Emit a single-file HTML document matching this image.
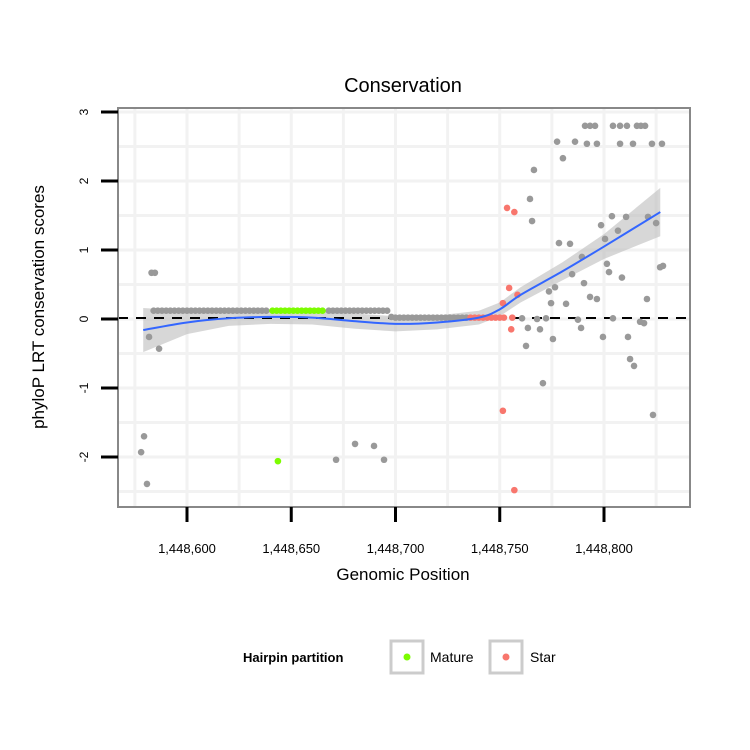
<!DOCTYPE html>
<html><head><meta charset="utf-8"><style>
html,body{margin:0;padding:0;background:#fff;}
svg{display:block;font-family:"Liberation Sans",sans-serif;}
</style></head><body>
<svg id="chart" width="750" height="750" xmlns="http://www.w3.org/2000/svg">
<text x="403" y="92" font-size="20" text-anchor="middle">Conservation</text>
<text transform="translate(44,307) rotate(-90)" font-size="17" text-anchor="middle">phyloP LRT conservation scores</text>
<text x="403" y="580" font-size="17" text-anchor="middle">Genomic Position</text>
<g id="grid"></g>
<g id="band"></g>
<line x1="118" x2="690" y1="318" y2="318" stroke="#000" stroke-width="2" stroke-dasharray="10,8"/>
<g id="points"></g>
<g id="smooth"></g>
<rect x="118" y="108" width="572" height="399" fill="none" stroke="#888" stroke-width="2"/>
<g id="axes"></g>
<g>
<text x="243" y="662" font-size="13" font-weight="bold">Hairpin partition</text>
<g>
<rect x="391" y="641" width="32" height="32" fill="#fff" stroke="#ccc" stroke-width="3"/>
<circle cx="407" cy="657" r="3.5" fill="#7CFC00"/>
<text x="430" y="662" font-size="14">Mature</text></g>
<g>
<rect x="490" y="641" width="32" height="32" fill="#fff" stroke="#ccc" stroke-width="3"/>
<circle cx="506" cy="657" r="3.5" fill="#F8766D"/>
<text x="530" y="662" font-size="14">Star</text></g>
</g>
</svg>
<script>
const xTicks=[1448600,1448650,1448700,1448750,1448800];
const xTickLabels=["1,448,600","1,448,650","1,448,700","1,448,750","1,448,800"];
const yTicks=[-2,-1,0,1,2,3];
const yTickLabels=["-2","-1","0","1","2","3"];
const grayX=[1448578,1448579.4,1448580.8,1448581.8,1448586.6,1448583,1448584.6,1448671.5,1448680.6,1448689.7,1448694.5,
1448584,1448586,1448588,1448590,1448592,1448594,1448596,1448598,1448600,1448602,1448604,1448606,1448608,1448610,1448612,1448614,1448616,1448618,1448620,1448622,1448624,1448626,1448628,1448630,1448632,1448634,1448636,1448638,
1448668,1448670,1448672,1448674,1448676,1448678,1448680,1448682,1448684,1448686,1448688,1448690,1448692,1448694,1448696,
1448698,1448700,1448702,1448704,1448706,1448708,1448710,1448712,1448714,1448716,1448718,1448720,1448722,1448724,1448726,1448728,1448730,1448732,1448734,
1448790.9,1448793.3,1448795.7,1448804.3,1448807.7,1448811.0,1448815.8,1448817.7,1448819.7,
1448777.5,1448786.1,1448791.8,1448796.6,1448807.7,1448813.9,1448823.0,1448827.8,
1448780.3,1448766.4,1448764.5,1448765.5,1448803.8,1448810.6,1448821.1,1448825.0,1448798.6,1448806.7,1448800.5,1448778.4,1448783.7,1448789.4,
1448826.9,1448828.3,1448801.4,1448802.4,1448784.7,1448808.6,1448790.4,1448776.5,1448773.6,1448793.3,1448796.6,1448820.6,1448774.6,1448781.8,
1448760.7,1448772.2,1448804.3,1448767.9,1448787.5,1448817.3,1448819.2,1448763.5,1448769.3,1448789.0,1448775.5,1448762.6,1448799.5,1448811.5,1448812.5,1448814.4,1448770.7,1448823.5];
const grayV=[-1.93,-1.70,-2.39,-0.26,-0.43,0.67,0.67,-2.04,-1.81,-1.84,-2.04,
0.12,0.12,0.12,0.12,0.12,0.12,0.12,0.12,0.12,0.12,0.12,0.12,0.12,0.12,0.12,0.12,0.12,0.12,0.12,0.12,0.12,0.12,0.12,0.12,0.12,0.12,0.12,0.12,
0.12,0.12,0.12,0.12,0.12,0.12,0.12,0.12,0.12,0.12,0.12,0.12,0.12,0.12,0.12,
0.03,0.02,0.02,0.02,0.02,0.02,0.02,0.02,0.02,0.02,0.02,0.02,0.02,0.02,0.02,0.02,0.02,0.02,0.02,
2.80,2.80,2.80,2.80,2.80,2.80,2.80,2.80,2.80,
2.57,2.57,2.54,2.54,2.54,2.54,2.54,2.54,
2.33,2.16,1.74,1.42,1.49,1.48,1.48,1.39,1.36,1.28,1.16,1.10,1.09,0.90,
0.75,0.77,0.80,0.68,0.65,0.60,0.52,0.46,0.40,0.32,0.29,0.29,0.23,0.22,
0.01,0.01,0.01,0.00,-0.01,-0.04,-0.06,-0.13,-0.15,-0.13,-0.29,-0.39,-0.26,-0.26,-0.58,-0.68,-0.93,-1.39];
const matureX=[1448641,1448643,1448645,1448647,1448649,1448651,1448653,1448655,1448657,1448659,1448661,1448663,1448665,1448643.6];
const matureV=[0.12,0.12,0.12,0.12,0.12,0.12,0.12,0.12,0.12,0.12,0.12,0.12,0.12,-2.06];
const starX=[1448736,1448738,1448740,1448742,1448744,1448746,1448748,1448750,1448752,1448756,1448753.5,1448757,1448754.5,1448758.5,1448751.5,1448755.5,1448751.5,1448757];
const starV=[0.02,0.02,0.02,0.02,0.02,0.02,0.02,0.02,0.02,0.02,1.61,1.55,0.45,0.35,0.23,-0.15,-1.33,-2.48];
const smoothX=[1448579,1448600,1448620,1448640,1448660,1448680,1448700,1448720,1448740,1448750,1448760,1448780,1448800,1448827];
const smoothV=[-0.16,-0.05,0.01,0.03,0.02,-0.03,-0.07,-0.05,0.02,0.14,0.35,0.69,1.05,1.55];
const smoothSE=[0.32,0.17,0.11,0.10,0.10,0.11,0.11,0.10,0.10,0.10,0.11,0.13,0.18,0.35];

const NS="http://www.w3.org/2000/svg";
function sx(p){return 187+(p-1448600)*2.085;}
function sy(v){return 319-v*69;}
function mk(tag,attrs,parent){const e=document.createElementNS(NS,tag);for(const k in attrs)e.setAttribute(k,attrs[k]);parent.appendChild(e);return e;}
const grid=document.getElementById('grid');
const gx=[1448575,1448600,1448625,1448650,1448675,1448700,1448725,1448750,1448775,1448800,1448825];
gx.forEach(p=>{const l=mk('line',{x1:sx(p),x2:sx(p),y1:108,y2:507,stroke:'#f2f2f2','stroke-width':3},grid);

});
const gy=[-2.5,-2,-1.5,-1,-0.5,0,0.5,1,1.5,2,2.5,3];
gy.forEach(v=>{const l=mk('line',{x1:118,x2:690,y1:sy(v),y2:sy(v),stroke:'#f2f2f2','stroke-width':3},grid);

});
let up=smoothX.map((p,i)=>sx(p)+','+sy(smoothV[i]+smoothSE[i]));
let lo=smoothX.map((p,i)=>sx(p)+','+sy(smoothV[i]-smoothSE[i])).reverse();
const band=mk('polygon',{points:up.concat(lo).join(' '),fill:'#bdbdbd','fill-opacity':0.6},document.getElementById('band'));


const pts=document.getElementById('points');
function drawPts(X,V,col,name){X.forEach((p,i)=>{const c=mk('circle',{cx:sx(p),cy:sy(V[i]),r:3.3,fill:col},pts);

});}
drawPts(grayX,grayV,'#999999','point-other');
drawPts(matureX,matureV,'#7CFC00','point-mature');
drawPts(starX,starV,'#F8766D','point-star');
const P=smoothX.map((p,i)=>[sx(p),sy(smoothV[i])]);
let d='M'+P[0][0]+','+P[0][1];
for(let i=0;i<P.length-1;i++){const p0=P[Math.max(0,i-1)],p1=P[i],p2=P[i+1],p3=P[Math.min(P.length-1,i+2)];
d+=' C'+(p1[0]+(p2[0]-p0[0])/6)+','+(p1[1]+(p2[1]-p0[1])/6)+' '+(p2[0]-(p3[0]-p1[0])/6)+','+(p2[1]-(p3[1]-p1[1])/6)+' '+p2[0]+','+p2[1];}
const sl=mk('path',{d:d,fill:'none',stroke:'#3366FF','stroke-width':2},document.getElementById('smooth'));


const axes=document.getElementById('axes');
xTicks.forEach((p,i)=>{const t=mk('line',{x1:sx(p),x2:sx(p),y1:507,y2:522,stroke:'#000','stroke-width':3},axes);


const tx=mk('text',{x:sx(p),y:553,'font-size':13,'text-anchor':'middle'},axes);tx.textContent=xTickLabels[i];

});
yTicks.forEach((v,i)=>{const t=mk('line',{x1:101,x2:118,y1:sy(v),y2:sy(v),stroke:'#000','stroke-width':3},axes);


const tx=mk('text',{transform:'translate(88,'+sy(v)+') rotate(-90)','font-size':12,'text-anchor':'middle'},axes);tx.textContent=yTickLabels[i];

});
</script>
</body></html>
